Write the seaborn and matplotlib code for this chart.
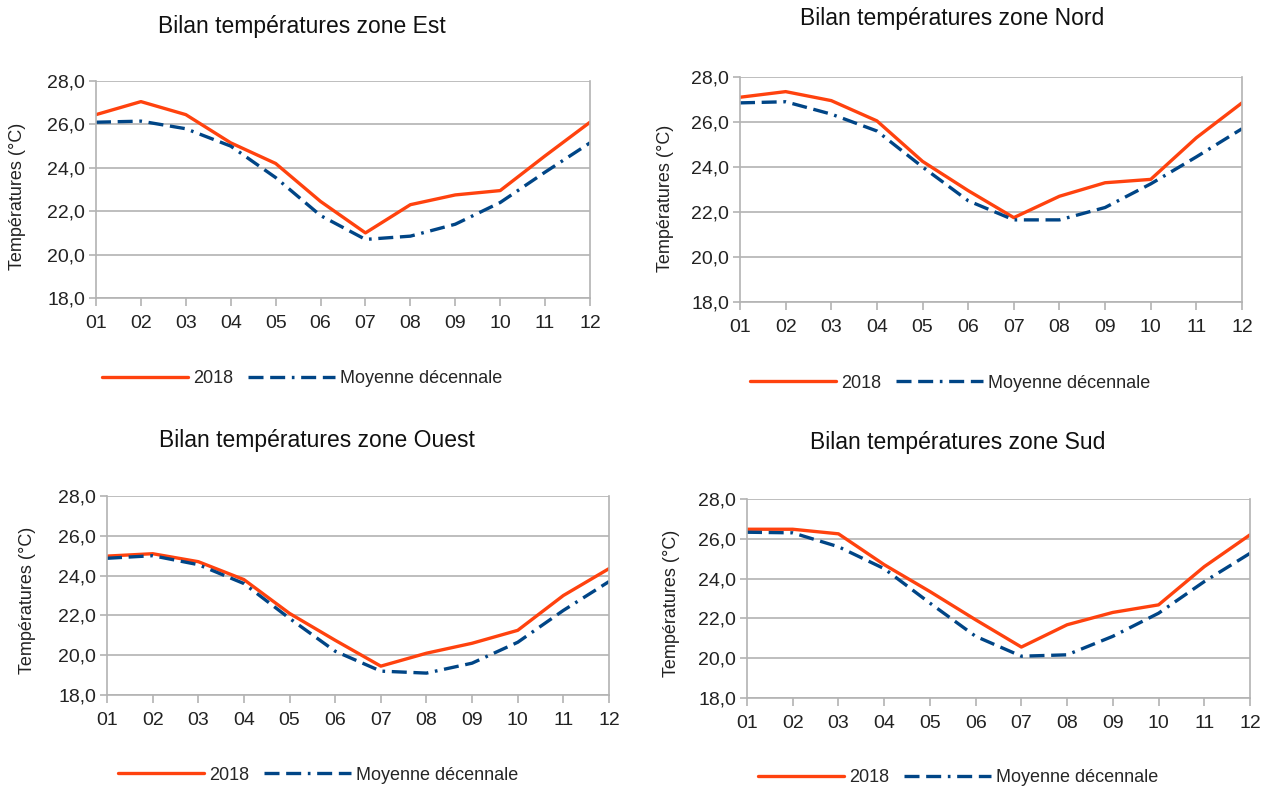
import numpy as np
import pandas as pd
import seaborn as sns
import matplotlib.pyplot as plt

months = list(range(1, 13))
month_labels = ['01', '02', '03', '04', '05', '06', '07', '08', '09', '10', '11', '12']

est_2018 = [26.45, 27.05, 26.45, 25.15, 24.2, 22.45, 21.0, 22.3, 22.75, 22.95, 24.55, 26.1]
est_moy = [26.1, 26.15, 25.8, 25.0, 23.55, 21.8, 20.7, 20.85, 21.4, 22.4, 23.8, 25.15]
nord_2018 = [27.1, 27.35, 26.95, 26.05, 24.25, 22.95, 21.75, 22.7, 23.3, 23.45, 25.3, 26.85]
nord_moy = [26.85, 26.9, 26.35, 25.6, 24.0, 22.5, 21.65, 21.65, 22.2, 23.25, 24.45, 25.7]
ouest_2018 = [24.98, 25.1, 24.7, 23.8, 22.1, 20.75, 19.45, 20.1, 20.6, 21.25, 23.0, 24.35]
ouest_moy = [24.87, 25.0, 24.55, 23.6, 21.85, 20.2, 19.2, 19.1, 19.6, 20.65, 22.25, 23.7]
sud_2018 = [26.48, 26.48, 26.25, 24.7, 23.35, 21.93, 20.56, 21.68, 22.3, 22.68, 24.6, 26.2]
sud_moy = [26.33, 26.3, 25.6, 24.5, 22.77, 21.1, 20.1, 20.17, 21.1, 22.26, 23.85, 25.27]

zones = ['Est', 'Nord', 'Ouest', 'Sud']
series = {'Est': (est_2018, est_moy), 'Nord': (nord_2018, nord_moy),
          'Ouest': (ouest_2018, ouest_moy), 'Sud': (sud_2018, sud_moy)}

# pixel layout: axes left, right, top, bottom / title / ylabel / legend
W, H = 1262, 789
layout = {
    'Est':   dict(ax=(96, 590, 81, 298), title=(302, 27), ylab=(18, 196), leg=(302, 379)),
    'Nord':  dict(ax=(740, 1242, 77, 302), title=(952, 18), ylab=(665, 198), leg=(950, 383)),
    'Ouest': dict(ax=(107, 609, 496, 695), title=(317, 441), ylab=(28, 600), leg=(318, 775)),
    'Sud':   dict(ax=(747, 1250, 499, 698), title=(958, 443), ylab=(672, 603), leg=(958, 778)),
}

red = '#ff420e'
blue = '#004586'
grey = '#b3b3b3'

sns.set_theme(style='white')
plt.rcParams['font.family'] = ['Liberation Sans', 'DejaVu Sans']

fig = plt.figure(figsize=(W / 100, H / 100), dpi=100)

for zone in zones:
    l, r, t, b = layout[zone]['ax']
    ax = fig.add_axes([l / W, 1 - b / H, (r - l) / W, (b - t) / H])
    y18, ymoy = series[zone]
    df = pd.DataFrame({'mois': months, '2018': y18, 'Moyenne décennale': ymoy})

    sns.lineplot(data=df, x='mois', y='2018', ax=ax, color=red, linewidth=2.4, label='2018')
    sns.lineplot(data=df, x='mois', y='Moyenne décennale', ax=ax, color=blue, linewidth=2.4,
                 linestyle=(0, (4.5, 2, 4.5, 2, 0.8, 2)), label='Moyenne décennale')

    ax.set_xlim(1, 12)
    ax.set_ylim(18, 28)
    ax.set_xticks(months)
    ax.set_xticklabels(month_labels)
    yt = np.arange(18, 29, 2)
    ax.set_yticks(yt)
    ax.set_yticklabels([f'{v:.1f}'.replace('.', ',') for v in yt])
    ax.tick_params(axis='both', labelsize=14, color=grey, width=1.2, labelcolor='#222222',
                   bottom=True, left=True)
    ax.tick_params(axis='x', length=6, pad=6)
    ax.tick_params(axis='y', length=5, pad=3)
    ax.grid(axis='y', color=grey, linewidth=1.2)
    ax.set_axisbelow(True)
    for side in ['left', 'bottom', 'right']:
        ax.spines[side].set_color(grey)
        ax.spines[side].set_linewidth(1.2)
    ax.spines['top'].set_visible(False)
    ax.set_xlabel('')
    ax.set_ylabel('')
    ax.get_legend().remove()

    tx, ty = layout[zone]['title']
    fig.text(tx / W, 1 - ty / H, f'Bilan températures zone {zone}', ha='center', va='center',
             fontsize=16.5, color='#111111')
    lx, ly = layout[zone]['ylab']
    fig.text(lx / W, 1 - ly / H, 'Températures (°C)', ha='center', va='center', rotation=90,
             fontsize=13, color='#222222')
    gx, gy = layout[zone]['leg']
    handles, labels = ax.get_legend_handles_labels()
    fig.legend(handles, labels, loc='center', bbox_to_anchor=(gx / W, 1 - gy / H), ncol=2,
               frameon=False, fontsize=13, handlelength=4.8, columnspacing=0.8, handletextpad=0.3)

fig.savefig('out.png', dpi=100, facecolor='white')
